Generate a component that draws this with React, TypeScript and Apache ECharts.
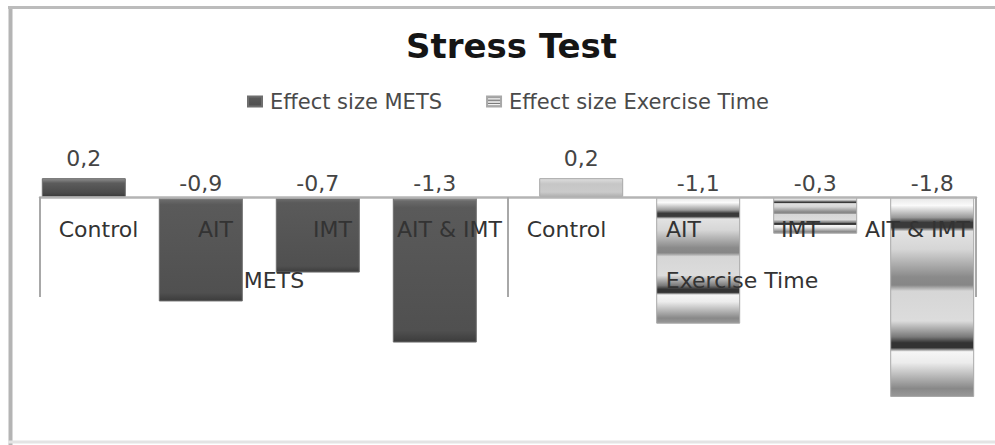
import React, { useEffect, useRef } from "react";
import * as echarts from "echarts";

const categories = ["Control", "AIT", "IMT", "AIT & IMT"];
const groups = ["METS", "Exercise Time"];
const seriesNames = ["Effect size METS", "Effect size Exercise Time"];
const metsValues = [0.17, -0.94, -0.68, -1.31];
const exerciseValues = [0.17, -1.14, -0.33, -1.8];

const FONT = "DejaVu Sans";
const Y_MIN = -2;
const Y_MAX = 0.4;

const grad = (stops: [number, string][]) =>
  new echarts.graphic.LinearGradient(
    0,
    0,
    0,
    1,
    stops.map(([offset, color]) => ({ offset, color }))
  );

const metsNeg = () =>
  grad([
    [0, "#9c9c9c"],
    [0.025, "#6a6a6a"],
    [0.07, "#5a5a5a"],
    [0.92, "#505050"],
    [1, "#3c3c3c"],
  ]);
const metsPos = () =>
  grad([
    [0, "#8e8e8e"],
    [0.25, "#5c5c5c"],
    [0.8, "#4a4a4a"],
    [1, "#3a3a3a"],
  ]);
const exPos = () =>
  grad([
    [0, "#dedede"],
    [0.3, "#c6c6c6"],
    [0.75, "#cacaca"],
    [1, "#b0b0b0"],
  ]);
const exNeg = () =>
  grad([
    [0, "#e6e6e6"],
    [0.04, "#fafafa"],
    [0.1, "#9a9a9a"],
    [0.125, "#3a3a3a"],
    [0.15, "#3a3a3a"],
    [0.17, "#e2e2e2"],
    [0.26, "#d6d6d6"],
    [0.4, "#8a8a8a"],
    [0.44, "#868686"],
    [0.47, "#d6d6d6"],
    [0.62, "#dcdcdc"],
    [0.7, "#7a7a7a"],
    [0.73, "#333333"],
    [0.755, "#333333"],
    [0.775, "#f6f6f6"],
    [0.83, "#ececec"],
    [0.96, "#888888"],
    [1, "#999999"],
  ]);

const fmt = (v: number) => v.toFixed(1).replace(".", ",");

export default function App() {
  const ref = useRef<HTMLDivElement>(null);

  useEffect(() => {
    if (!ref.current) return;
    const chart = echarts.init(ref.current, null, { renderer: "svg" });

    const gridTop = 152.6;
    const gridBottom = 25.8;
    const gridHeight = 445 - gridTop - gridBottom;
    // distance from grid bottom (Y_MIN) up to the zero line
    const zeroOffset = -(gridHeight * (0 - Y_MIN)) / (Y_MAX - Y_MIN);

    const xCats = groups.flatMap(() => categories);
    const empty = categories.map(() => "-");

    const makeItems = (
      values: number[],
      pos: () => any,
      neg: () => any,
      border: string
    ) =>
      values.map((v) => ({
        value: v,
        itemStyle: { color: v >= 0 ? pos() : neg(), borderColor: border, borderWidth: 1 },
        label: { distance: v >= 0 ? 9 : 3 },
      }));

    const metsData = [...makeItems(metsValues, metsPos, metsNeg, "#6e6e6e"), ...empty];
    const exData = [...empty, ...makeItems(exerciseValues, exPos, exNeg, "#a8a8a8")];

    const labelCfg = {
      show: true,
      position: "top",
      fontSize: 22,
      color: "#444",
      fontFamily: FONT,
      formatter: (p: any) => fmt(Number(p.value)),
    };

    chart.setOption({
      animation: false,
      textStyle: { fontFamily: FONT },
      title: {
        text: "Stress Test",
        left: 401,
        top: 24,
        textStyle: { fontSize: 34, fontWeight: "bold", color: "#151515", fontFamily: FONT },
      },
      legend: {
        left: 242,
        top: 86,
        itemWidth: 14,
        itemHeight: 10,
        itemGap: 44,
        icon: "rect",
        data: seriesNames,
        textStyle: { fontSize: 21, color: "#4a4a4a", fontFamily: FONT, padding: [0, 0, 0, 3] },
      },
      grid: {
        left: 40,
        right: 19,
        top: gridTop,
        bottom: gridBottom,
        containLabel: false,
        outerBoundsMode: "none",
      },
      xAxis: [
        {
          type: "category",
          data: xCats,
          position: "bottom",
          offset: zeroOffset,
          z: 5,
          axisLine: { show: true, onZero: false, lineStyle: { color: "#b4b4b4", width: 2.5 } },
          axisTick: {
            show: true,
            length: 100,
            interval: (index: number) => index % categories.length === 0,
            lineStyle: { color: "#a8a8a8", width: 2 },
          },
          axisLabel: {
            interval: 0,
            margin: 21,
            fontSize: 22,
            color: "#333",
            fontFamily: FONT,
            hideOverlap: false,
          },
          splitLine: { show: false },
        },
        {
          type: "category",
          data: groups,
          position: "bottom",
          offset: zeroOffset,
          z: 5,
          axisLine: { show: false, onZero: false },
          axisTick: { show: false },
          axisLabel: {
            interval: 0,
            margin: 72,
            fontSize: 22,
            color: "#333",
            fontFamily: FONT,
            hideOverlap: false,
          },
          splitLine: { show: false },
        },
      ],
      yAxis: {
        type: "value",
        min: Y_MIN,
        max: Y_MAX,
        show: false,
        splitLine: { show: false },
      },
      series: [
        {
          name: seriesNames[0],
          type: "bar",
          data: metsData,
          barWidth: 84,
          barGap: "-65%",
          itemStyle: { color: metsNeg(), borderColor: "#6e6e6e", borderWidth: 1 },
          label: labelCfg,
        },
        {
          name: seriesNames[1],
          type: "bar",
          data: exData,
          barWidth: 84,
          barGap: "-65%",
          itemStyle: { color: exNeg(), borderColor: "#a8a8a8", borderWidth: 1 },
          label: labelCfg,
        },
      ],
      graphic: [
        {
          type: "line",
          shape: { x1: 10.5, y1: 6, x2: 10.5, y2: 445 },
          style: { stroke: "#b4b4b4", lineWidth: 4 },
        },
        {
          type: "line",
          shape: { x1: 8, y1: 7.5, x2: 995, y2: 7.5 },
          style: { stroke: "#bcbcbc", lineWidth: 3 },
        },
        {
          type: "line",
          shape: { x1: 8, y1: 442, x2: 995, y2: 442 },
          style: { stroke: "#e4e4e4", lineWidth: 3 },
        },
      ],
    });

    return () => chart.dispose();
  }, []);

  return (
    <div
      ref={ref}
      style={{ position: "fixed", left: 0, top: 0, width: 995, height: 445, background: "#fff" }}
    />
  );
}
